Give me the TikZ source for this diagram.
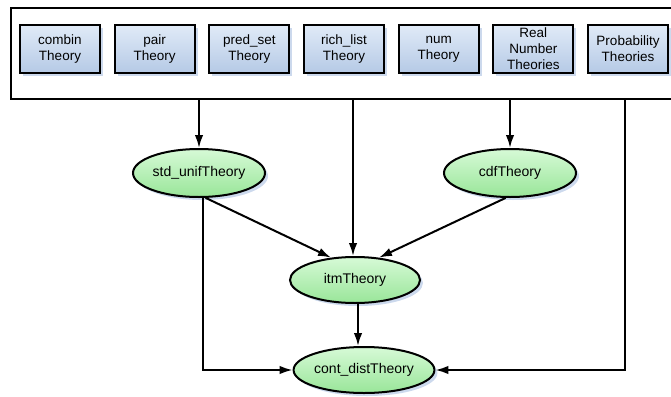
\documentclass[tikz,border=0pt]{standalone}
\usepackage{fontspec}
\setmainfont{Liberation Sans}
\usetikzlibrary{arrows.meta, shapes.geometric, shadows}
\definecolor{boxtop}{rgb}{0.88, 0.92, 0.97}
\definecolor{boxbottom}{rgb}{0.71, 0.79, 0.9}
\definecolor{lighttop}{rgb}{0.84, 0.98, 0.84}
\definecolor{lightbottom}{rgb}{0.6, 0.9, 0.6}
\definecolor{shadowblue}{rgb}{0.8, 0.85, 0.93}

\begin{document}
\begin{tikzpicture}[x=1pt, y=-1pt]
    \tikzstyle{theory_box} = [rectangle, draw=black, line width=2pt, top color=boxtop, bottom color=boxbottom, minimum width=80pt, minimum height=48pt, inner sep=0pt, align=center, font=\fontsize{13.5}{16}\selectfont, drop shadow={shadow xshift=3pt, shadow yshift=-3pt, fill=shadowblue, opacity=1}]
    \tikzstyle{theory_node} = [ellipse, draw=black, line width=2pt, top color=lighttop, bottom color=lightbottom, minimum width=132pt, minimum height=48pt, inner sep=0pt, font=\fontsize{14}{16}\selectfont, drop shadow={shadow xshift=3pt, shadow yshift=-3pt, fill=shadowblue, opacity=1}]
    \tikzstyle{dep_arrow} = [-{Latex[length=13pt, width=8.5pt]}, line width=2pt, black]

    \useasboundingbox (0,0) rectangle (671,396);

    % imported theories
    \node[draw, line width=2pt, minimum width=665pt, minimum height=91pt, inner sep=0pt, anchor=north west] (frame) at (10,7) {};
    \node[theory_box] (combin) at (60,49) {combin\\Theory};
    \node[theory_box] (pair) at (154.7,49) {pair\\Theory};
    \node[theory_box] (predset) at (249.3,49) {pred\_set\\Theory};
    \node[theory_box] (richlist) at (344,49) {rich\_list\\Theory};
    \node[theory_box] (num) at (438.7,49) {num\\Theory};
    \node[theory_box] (real) at (533.3,49) {Real\\Number\\Theories};
    \node[theory_box] (prob) at (628,49) {Probability\\Theories};

    % theories of this development
    \node[theory_node] (stdunif) at (199,173) {std\_unifTheory};
    \node[theory_node] (cdf) at (510,173) {cdfTheory};
    \node[theory_node, minimum width=130pt, minimum height=46pt] (itm) at (355,280) {itmTheory};
    \node[theory_node, minimum height=46pt] (contdist) at (364,370) {cont\_distTheory};

    \draw[dep_arrow] (stdunif.north |- frame.south) -- (stdunif.north);
    \draw[dep_arrow] ([xshift=-2pt]itm.north |- frame.south) -- ([xshift=-2pt]itm.north);
    \draw[dep_arrow] (cdf.north |- frame.south) -- (cdf.north);
    \draw[dep_arrow] (stdunif.-75) -- (itm.137);
    \draw[dep_arrow] (cdf.-100) -- (itm.43);
    \draw[dep_arrow] ([xshift=3pt]itm.south) -- ([xshift=-6pt]contdist.north);
    \draw[dep_arrow] (stdunif.-82) |- (contdist.west);
    \draw[dep_arrow] ([xshift=-3pt]prob.south |- frame.south) |- (contdist.east);
\end{tikzpicture}
\end{document}
